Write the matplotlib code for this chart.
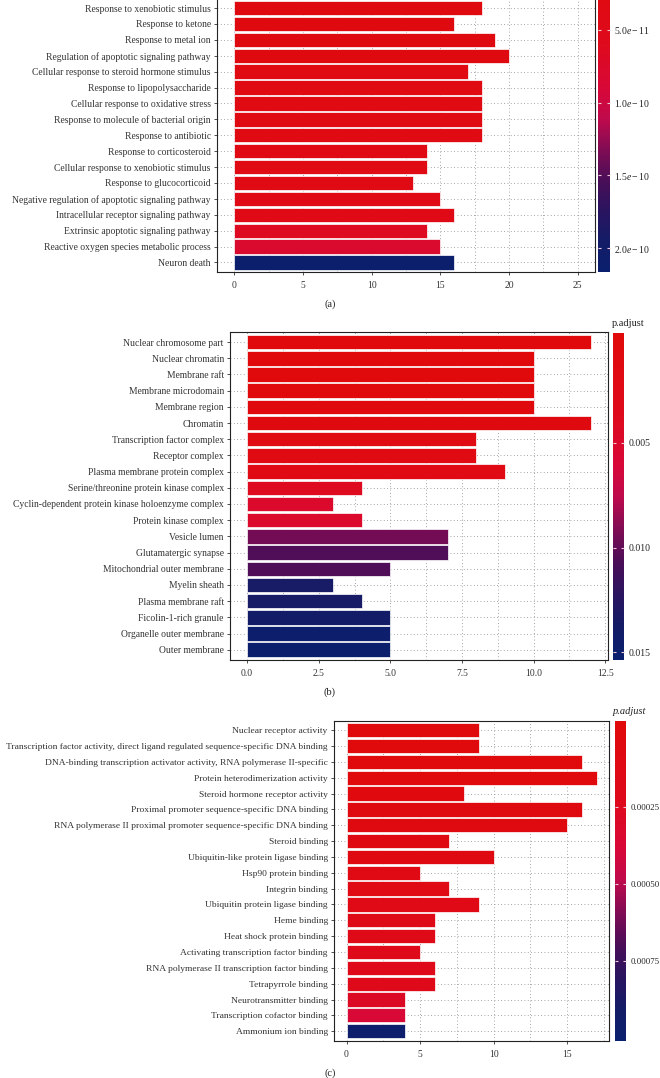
import numpy as np
import matplotlib
matplotlib.use('Agg')
import matplotlib.pyplot as plt
from matplotlib.colors import LinearSegmentedColormap, Normalize
from matplotlib.cm import ScalarMappable
from matplotlib.ticker import MultipleLocator

plt.rcParams['font.family'] = ['Liberation Serif', 'DejaVu Serif']
plt.rcParams['mathtext.fontset'] = 'custom'
plt.rcParams['mathtext.rm'] = 'Liberation Serif'
plt.rcParams['mathtext.it'] = 'Liberation Serif:italic'

# panel (a) - biological process (top of panel is cut off in the source)
terms_a = ['Response to xenobiotic stimulus', 'Response to ketone', 'Response to metal ion',
           'Regulation of apoptotic signaling pathway', 'Cellular response to steroid hormone stimulus',
           'Response to lipopolysaccharide', 'Cellular response to oxidative stress',
           'Response to molecule of bacterial origin', 'Response to antibiotic',
           'Response to corticosteroid', 'Cellular response to xenobiotic stimulus',
           'Response to glucocorticoid', 'Negative regulation of apoptotic signaling pathway',
           'Intracellular receptor signaling pathway', 'Extrinsic apoptotic signaling pathway',
           'Reactive oxygen species metabolic process', 'Neuron death']
count_a = [18, 16, 19, 20, 17, 18, 18, 18, 18, 14, 14, 13, 15, 16, 14, 15, 16]
padj_a = [2.0e-11, 2.5e-11, 2.5e-11, 2.5e-11, 3.0e-11, 3.0e-11, 3.0e-11, 3.0e-11, 3.0e-11,
          3.5e-11, 3.5e-11, 3.5e-11, 4.0e-11, 4.0e-11, 6.5e-11, 8.0e-11, 2.11e-10]

# panel (b) - cellular component
terms_b = ['Nuclear chromosome part', 'Nuclear chromatin', 'Membrane raft', 'Membrane microdomain',
           'Membrane region', 'Chromatin', 'Transcription factor complex', 'Receptor complex',
           'Plasma membrane protein complex', 'Serine/threonine protein kinase complex',
           'Cyclin-dependent protein kinase holoenzyme complex', 'Protein kinase complex',
           'Vesicle lumen', 'Glutamatergic synapse', 'Mitochondrial outer membrane', 'Myelin sheath',
           'Plasma membrane raft', 'Ficolin-1-rich granule', 'Organelle outer membrane', 'Outer membrane']
count_b = [12, 10, 10, 10, 10, 12, 8, 8, 9, 4, 3, 4, 7, 7, 5, 3, 4, 5, 5, 5]
padj_b = [0.00013, 0.0005, 0.0005, 0.0005, 0.0006, 0.0008, 0.0015, 0.0015, 0.002, 0.004,
          0.005, 0.005, 0.0095, 0.0105, 0.0105, 0.0135, 0.0135, 0.014, 0.0149, 0.0150]

# panel (c) - molecular function
terms_c = ['Nuclear receptor activity',
           'Transcription factor activity, direct ligand regulated sequence-specific DNA binding',
           'DNA-binding transcription activator activity, RNA polymerase II-specific',
           'Protein heterodimerization activity', 'Steroid hormone receptor activity',
           'Proximal promoter sequence-specific DNA binding',
           'RNA polymerase II proximal promoter sequence-specific DNA binding', 'Steroid binding',
           'Ubiquitin-like protein ligase binding', 'Hsp90 protein binding', 'Integrin binding',
           'Ubiquitin protein ligase binding', 'Heme binding', 'Heat shock protein binding',
           'Activating transcription factor binding', 'RNA polymerase II transcription factor binding',
           'Tetrapyrrole binding', 'Neurotransmitter binding', 'Transcription cofactor binding',
           'Ammonium ion binding']
count_c = [9, 9, 16, 17, 8, 16, 15, 7, 10, 5, 7, 9, 6, 6, 5, 6, 6, 4, 4, 4]
padj_c = [1e-5, 1e-5, 1e-5, 2e-5, 3e-5, 5e-5, 6e-5, 8e-5, 8e-5, 1e-4, 1.2e-4, 1.3e-4,
          1.8e-4, 1.8e-4, 2e-4, 2e-4, 2.1e-4, 2.8e-4, 3.8e-4, 9.8e-4]

cmap = LinearSegmentedColormap.from_list('padj', [
    (0.0, '#E00A0A'), (0.25, '#DE0A1C'), (0.4, '#D80838'), (0.5, '#BE0A4C'),
    (0.6, '#800C54'), (0.7, '#4A0E57'), (0.8, '#2A1460'), (0.9, '#141C66'), (1.0, '#0A206E')])

W, H = 660, 1078
fig = plt.figure(figsize=(6.6, 10.78), dpi=100)


def rect(l, r, top, bot):
    return [l / W, 1 - bot / H, (r - l) / W, (bot - top) / H]


def colorbar(cb_rect, norm, ticks, labels, lsize=7, title=None, title_style='normal', title_xy=None):
    cax = fig.add_axes(rect(*cb_rect))
    sm = ScalarMappable(norm=norm, cmap=cmap)
    cb = fig.colorbar(sm, cax=cax)
    cb.outline.set_visible(False)
    cax.set_ylim(norm.vmax, norm.vmin)
    cb.set_ticks(ticks)
    cb.set_ticklabels(labels)
    cax.tick_params(axis='y', which='both', direction='in', length=2, width=0.8, color='#f0c8d8',
                    left=True, right=True, labelsize=lsize, labelcolor='#222222', pad=3)
    if title:
        fig.text(title_xy[0] / W, 1 - title_xy[1] / H, title, fontsize=7.5,
                 style=title_style, ha='left', va='center', color='#222222')
    return cax


# (a)
norm_a = Normalize(6.5e-12, 2.165e-10)
ax_a = fig.add_axes(rect(217, 595, -33.3, 272))
ya = np.arange(len(terms_a))
ax_a.barh(ya, count_a, height=0.9, color=cmap(norm_a(np.array(padj_a))),
          edgecolor='white', linewidth=0.5, zorder=2)
ax_a.set_yticks(ya)
ax_a.set_yticklabels(terms_a)
ax_a.set_ylim(16.6, -2.6)
ax_a.set_xlim(-1.25, 26.25)
ax_a.xaxis.set_major_locator(MultipleLocator(5))
ax_a.xaxis.set_minor_locator(MultipleLocator(2.5))

# (b)
norm_b = Normalize(-0.00026, 0.01538)
ax_b = fig.add_axes(rect(230, 608, 332.3, 659.5))
yb = np.arange(len(terms_b))
ax_b.barh(yb, count_b, height=0.9, color=cmap(norm_b(np.array(padj_b))),
          edgecolor='white', linewidth=0.5, zorder=2)
ax_b.set_yticks(yb)
ax_b.set_yticklabels(terms_b)
ax_b.set_ylim(19.6, -0.6)
ax_b.set_xlim(-0.6, 12.6)
ax_b.xaxis.set_major_locator(MultipleLocator(2.5))
ax_b.xaxis.set_minor_locator(MultipleLocator(1.25))
ax_b.xaxis.set_major_formatter(lambda v, p: f'{v:.1f}')

# (c)
norm_c = Normalize(-0.000029, 0.001009)
ax_c = fig.add_axes(rect(334, 609, 720.7, 1040.7))
yc = np.arange(len(terms_c))
ax_c.barh(yc, count_c, height=0.9, color=cmap(norm_c(np.array(padj_c))),
          edgecolor='white', linewidth=0.5, zorder=2)
ax_c.set_yticks(yc)
ax_c.set_yticklabels(terms_c)
ax_c.set_ylim(19.6, -0.6)
ax_c.set_xlim(-0.85, 17.85)
ax_c.xaxis.set_major_locator(MultipleLocator(5))
ax_c.xaxis.set_minor_locator(MultipleLocator(2.5))

for ax in (ax_a, ax_b, ax_c):
    ax.grid(True, which='both', axis='x', linestyle=(0, (1, 3)), color='#888888', linewidth=0.6)
    ax.grid(True, which='major', axis='y', linestyle=(0, (1, 3)), color='#888888', linewidth=0.6)
    ax.set_axisbelow(True)
    ax.tick_params(axis='both', which='major', length=2.5, width=0.6, color='#333333',
                   labelsize=6.9, labelcolor='#333333', pad=2)
    ax.tick_params(axis='x', which='minor', length=0)
    ax.tick_params(axis='x', pad=4)
    for s in ax.spines.values():
        s.set_linewidth(0.8)
        s.set_color('#222222')
ax_c.tick_params(axis='y', labelsize=6.8)

colorbar((598, 610, -33.3, 272), norm_a, [5e-11, 1e-10, 1.5e-10, 2e-10],
         [r'$5.0\mathit{e}-11$', r'$1.0\mathit{e}-10$', r'$1.5\mathit{e}-10$', r'$2.0\mathit{e}-10$'])
colorbar((613, 624, 333, 660), norm_b, [0.005, 0.010, 0.015], ['0.005', '0.010', '0.015'],
         7, 'p.adjust', 'normal', (612, 323))
colorbar((615, 626, 720.7, 1040.7), norm_c, [0.00025, 0.0005, 0.00075],
         ['0.00025', '0.00050', '0.00075'], 6.3, 'p.adjust', 'italic', (613, 711))

for tag, ty in (('(a)', 304), ('(b)', 692), ('(c)', 1073)):
    fig.text(330 / W, 1 - ty / H, tag, fontsize=7.5, ha='center', va='center', color='#222222')

fig.savefig('out.png', dpi=100)
